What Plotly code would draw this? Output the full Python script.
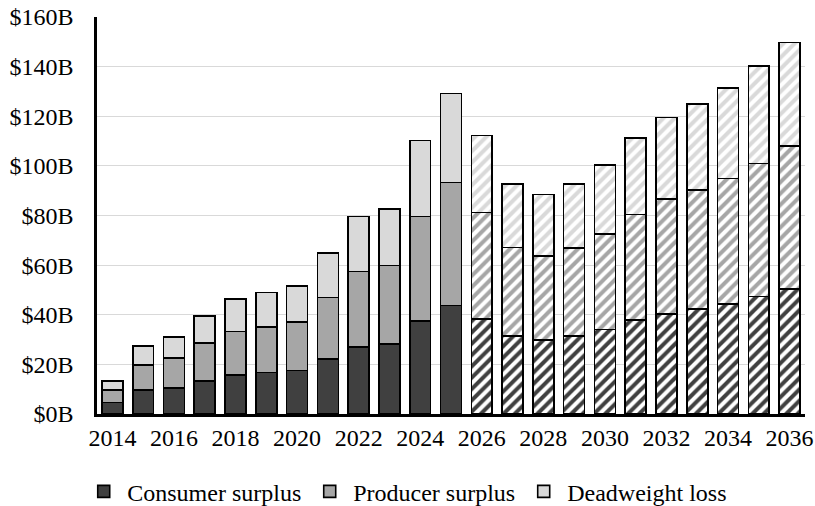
import plotly.graph_objects as go

years_hist = [2014, 2015, 2016, 2017, 2018, 2019, 2020, 2021, 2022, 2023, 2024, 2025]
consumer_hist = [4.7, 9.6, 10.5, 13.4, 15.6, 16.7, 17.6, 22.1, 27.0, 28.1, 37.4, 43.8]
producer_hist = [5.0, 10.2, 12.1, 15.1, 17.6, 18.4, 19.6, 24.8, 30.4, 31.7, 42.2, 49.5]
deadweight_hist = [3.7, 7.7, 8.4, 11.0, 13.2, 13.8, 14.5, 17.9, 22.2, 22.9, 30.6, 35.9]

years_proj = [2026, 2027, 2028, 2029, 2030, 2031, 2032, 2033, 2034, 2035, 2036]
consumer_proj = [38.2, 31.5, 29.8, 31.5, 34.1, 37.9, 40.3, 42.2, 44.4, 47.3, 50.4]
producer_proj = [43.0, 35.6, 34.0, 35.3, 38.4, 42.5, 46.3, 48.0, 50.5, 53.7, 57.6]
deadweight_proj = [31.0, 25.5, 24.6, 25.8, 27.8, 30.9, 32.9, 34.8, 36.4, 39.3, 41.7]

series_names = ["Consumer surplus", "Producer surplus", "Deadweight loss"]
colors = ["#404040", "#a6a6a6", "#d9d9d9"]

y_ticks = [0, 20, 40, 60, 80, 100, 120, 140, 160]
y_tick_labels = ["$0B", "$20B", "$40B", "$60B", "$80B", "$100B", "$120B", "$140B", "$160B"]
x_ticks = [2014, 2016, 2018, 2020, 2022, 2024, 2026, 2028, 2030, 2032, 2034, 2036]

FONT = "Liberation Serif, Times New Roman, serif"
FS = 24

fig = go.Figure()

hist = [consumer_hist, producer_hist, deadweight_hist]
proj = [consumer_proj, producer_proj, deadweight_proj]

for name, col, vals in zip(series_names, colors, hist):
    fig.add_trace(go.Bar(
        x=years_hist, y=vals, name=name, legendgroup=name,
        marker=dict(color=col, line=dict(color="black", width=1.6)),
    ))

for name, col, vals in zip(series_names, colors, proj):
    fig.add_trace(go.Bar(
        x=years_proj, y=vals, name=name, legendgroup=name, showlegend=False,
        marker=dict(color="white", line=dict(color="black", width=1.6),
                    pattern=dict(shape="/", fgcolor=col, bgcolor="white",
                                 fgopacity=1, size=8, solidity=0.5)),
    ))

fig.update_layout(
    template="none",
    barmode="stack",
    bargap=0.32,
    width=815, height=506,
    margin=dict(l=97, r=10, t=17, b=92, autoexpand=False),
    paper_bgcolor="white", plot_bgcolor="white",
    font=dict(family=FONT, size=FS, color="black"),
    legend=dict(orientation="h", x=-0.0237, xanchor="left", y=-0.196, yanchor="middle",
                font=dict(family=FONT, size=FS, color="black"),
                itemwidth=37, traceorder="normal", itemclick=False,
                bgcolor="rgba(0,0,0,0)"),
    xaxis=dict(range=[2013.5, 2036.5], tickvals=x_ticks, ticks="",
               showline=True, linecolor="black", linewidth=2.5,
               showgrid=False, zeroline=False, ticklabelstandoff=0,
               automargin=False, ticklabeloverflow="allow",
               tickfont=dict(family=FONT, size=FS, color="black")),
    yaxis=dict(range=[0, 160], tickvals=y_ticks, ticktext=y_tick_labels,
               ticks="", showline=True, linecolor="black", linewidth=2.5,
               showgrid=True, gridcolor="#d9d9d9", gridwidth=1.4,
               zeroline=False, ticklabelstandoff=16, automargin=False,
               ticklabeloverflow="allow",
               tickfont=dict(family=FONT, size=FS, color="black")),
)

# remove the browser's default page margin so the 815x506 figure fills the window exactly
page_fix = ("document.body.style.margin='0px';"
            "document.body.style.overflow='hidden';"
            "document.documentElement.style.overflow='hidden';")

fig.write_html("out.html", post_script=page_fix, config={"displayModeBar": False})
